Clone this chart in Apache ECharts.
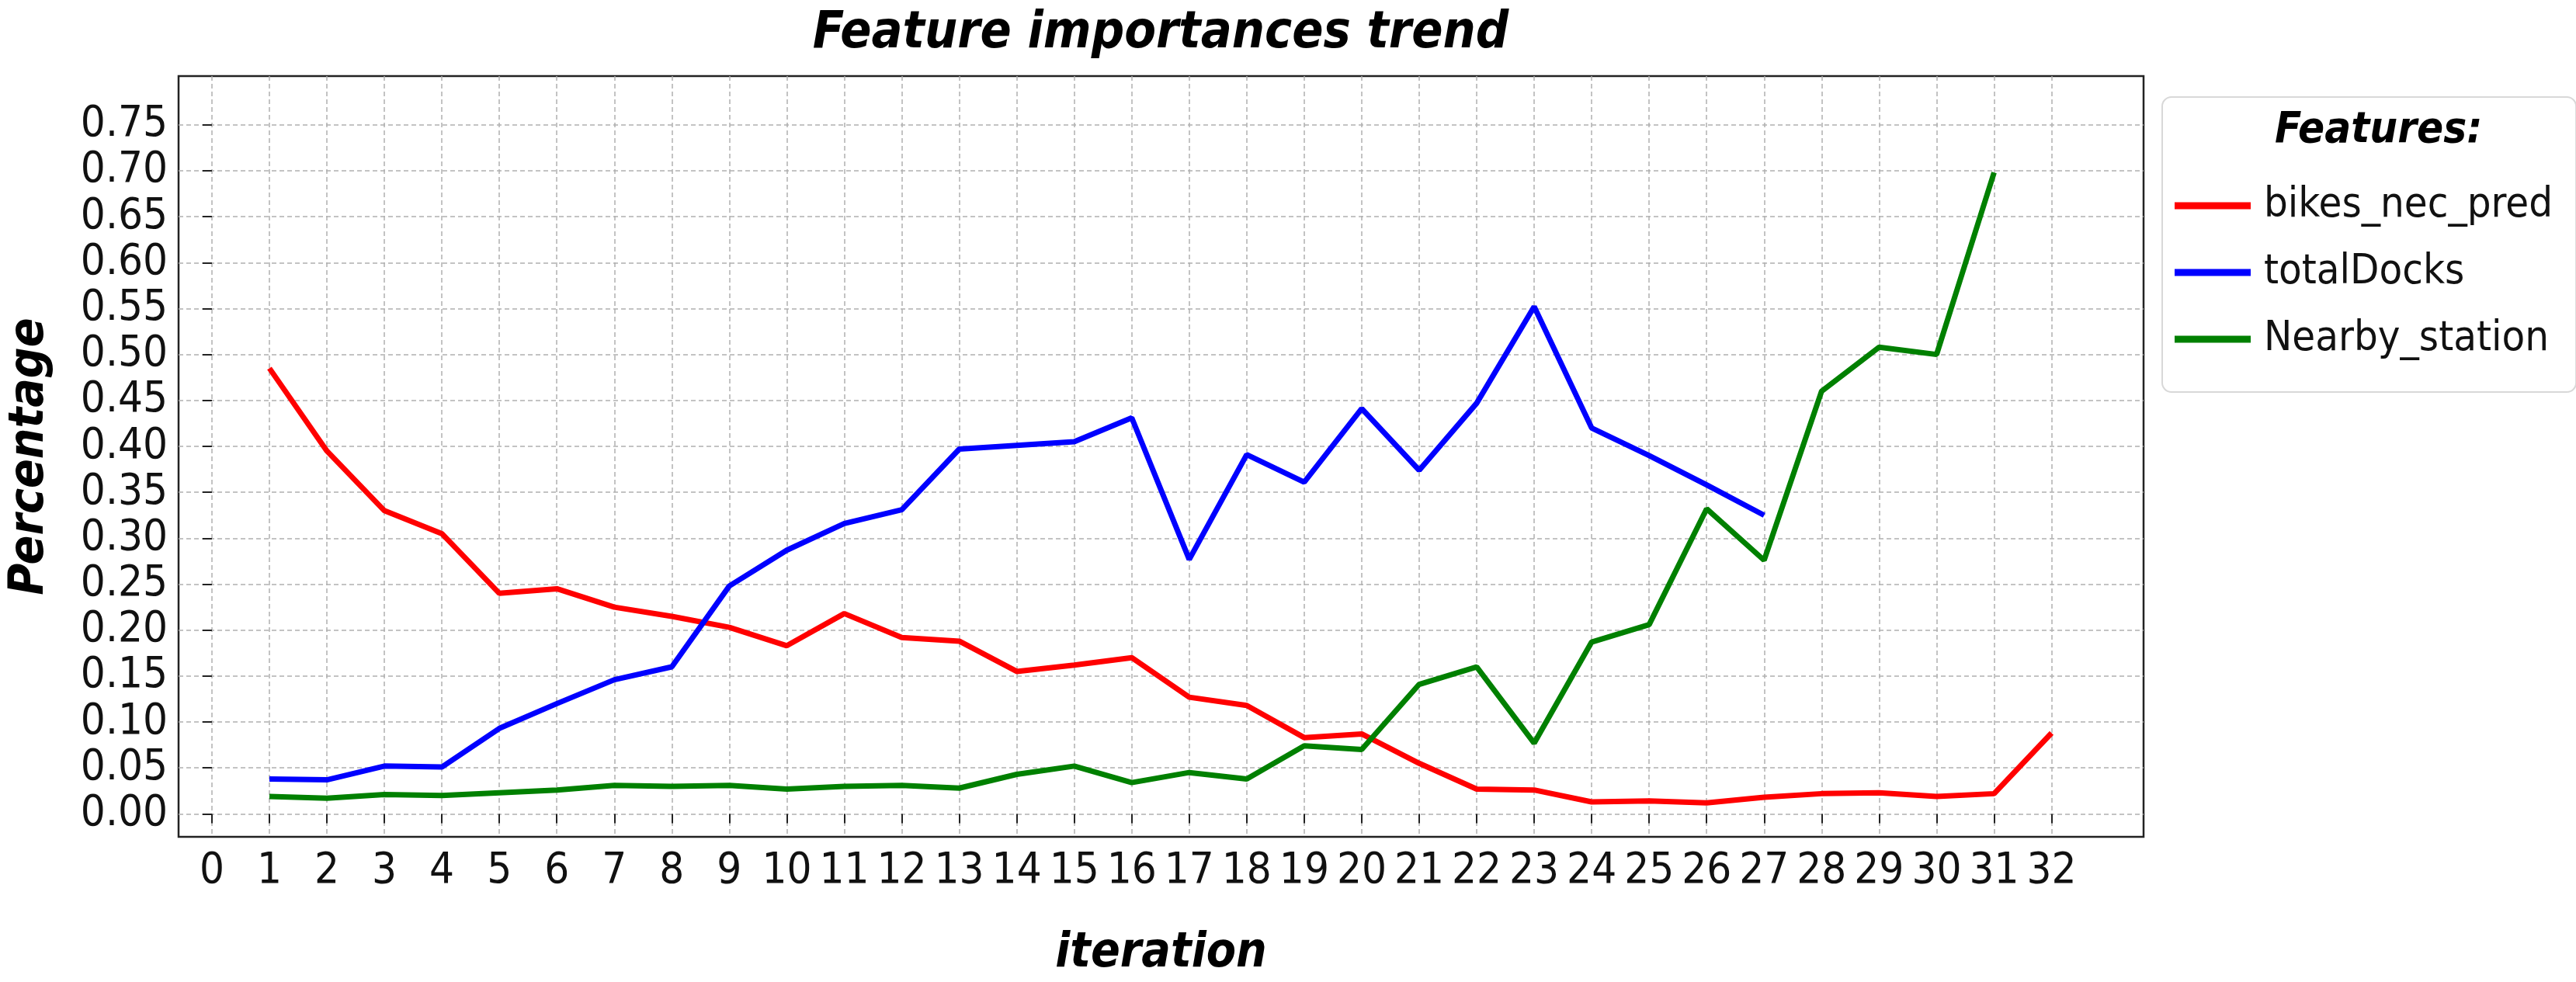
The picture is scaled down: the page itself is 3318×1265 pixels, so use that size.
<!DOCTYPE html>
<html>
<head>
<meta charset="utf-8">
<script src="https://cdn.jsdelivr.net/npm/echarts@6/dist/echarts.min.js"></script>
<style>html,body{margin:0;background:#fff}#main{width:3318px;height:1265px}</style>
</head>
<body>
<div id="main"></div>
<script>
var iterations = [1,2,3,4,5,6,7,8,9,10,11,12,13,14,15,16,17,18,19,20,21,22,23,24,25,26,27,28,29,30,31,32];
var bikesNecPred = [0.485,0.395,0.330,0.305,0.240,0.245,0.225,0.215,0.203,0.183,0.218,0.192,0.188,0.155,0.162,0.170,0.127,0.118,0.083,0.087,0.055,0.027,0.026,0.013,0.014,0.012,0.018,0.022,0.023,0.019,0.022,0.088];
var totalDocks = [0.038,0.037,0.052,0.051,0.093,0.120,0.146,0.160,0.248,0.287,0.316,0.331,0.397,0.401,0.405,0.431,0.277,0.391,0.361,0.441,0.374,0.447,0.552,0.420,0.390,0.358,0.325];
var nearbyStation = [0.019,0.017,0.021,0.020,0.023,0.026,0.031,0.030,0.031,0.027,0.030,0.031,0.028,0.043,0.052,0.034,0.045,0.038,0.074,0.070,0.141,0.160,0.077,0.187,0.206,0.332,0.276,0.460,0.508,0.500,0.698];
var xTicks = [0,1,2,3,4,5,6,7,8,9,10,11,12,13,14,15,16,17,18,19,20,21,22,23,24,25,26,27,28,29,30,31,32];
var yTicks = [0,0.05,0.10,0.15,0.20,0.25,0.30,0.35,0.40,0.45,0.50,0.55,0.60,0.65,0.70,0.75];

function pairs(vals) {
    return vals.map(function (v, i) { return [iterations[i], v]; });
}
var font = 'DejaVu Sans Condensed, DejaVu Sans';
var chart = echarts.init(document.getElementById('main'));
var gridLine = { show: true, lineStyle: { color: '#b0b0b0', type: [6, 4], width: 1.5 } };
chart.setOption({
    animation: false,
    title: {
        text: 'Feature importances trend', left: 1490, top: 6, textAlign: 'center',
        textStyle: { fontFamily: font, fontSize: 66, fontWeight: 'bold', fontStyle: 'italic', color: '#000' }
    },
    grid: { left: 223, right: 557, top: 98, bottom: 184, show: true, borderColor: '#222', borderWidth: 2.5, backgroundColor: 'transparent' },
    xAxis: {
        type: 'value', min: -0.58, max: 33.6,
        name: 'iteration', nameLocation: 'middle', nameGap: 120,
        nameTextStyle: { fontFamily: font, fontSize: 62, fontWeight: 'bold', fontStyle: 'italic', color: '#000' },
        axisLine: { show: false },
        axisTick: { show: true, customValues: xTicks, length: 12, lineStyle: { color: '#222', width: 2 } },
        axisLabel: { customValues: xTicks, fontFamily: font, fontSize: 56, color: '#111', margin: 16 },
        splitLine: gridLine
    },
    yAxis: {
        type: 'value', min: -0.025, max: 0.803,
        name: 'Percentage', nameLocation: 'middle', nameGap: 160,
        nameTextStyle: { fontFamily: font, fontSize: 62, fontWeight: 'bold', fontStyle: 'italic', color: '#000' },
        axisLine: { show: false },
        axisTick: { show: true, customValues: yTicks, length: 12, lineStyle: { color: '#222', width: 2 } },
        axisLabel: { customValues: yTicks, fontFamily: font, fontSize: 56, color: '#111', margin: 14,
            formatter: function (v) { return v.toFixed(2); } },
        splitLine: gridLine
    },
    legend: {
        orient: 'vertical', left: 2785, top: 125, width: 515,
        padding: [112, 30, 40, 16], itemGap: 30, itemWidth: 98, itemHeight: 9, icon: 'rect',
        borderColor: '#d8d8d8', borderWidth: 2, borderRadius: 12,
        textStyle: { fontFamily: font, fontSize: 54, color: '#111', lineHeight: 56, padding: [0, 0, 0, 12] },
        data: ['bikes_nec_pred', 'totalDocks', 'Nearby_station']
    },
    graphic: [{
        type: 'text', left: 2930, top: 140,
        style: { text: 'Features:', fontFamily: font, fontSize: 56, fontWeight: 'bold', fontStyle: 'italic', fill: '#000' }
    }],
    series: [
        { name: 'bikes_nec_pred', type: 'line', data: pairs(bikesNecPred), showSymbol: false, color: '#ff0000', lineStyle: { width: 7 } },
        { name: 'totalDocks', type: 'line', data: pairs(totalDocks), showSymbol: false, color: '#0000ff', lineStyle: { width: 7 } },
        { name: 'Nearby_station', type: 'line', data: pairs(nearbyStation), showSymbol: false, color: '#008000', lineStyle: { width: 7 } }
    ]
});
</script>
</body>
</html>
